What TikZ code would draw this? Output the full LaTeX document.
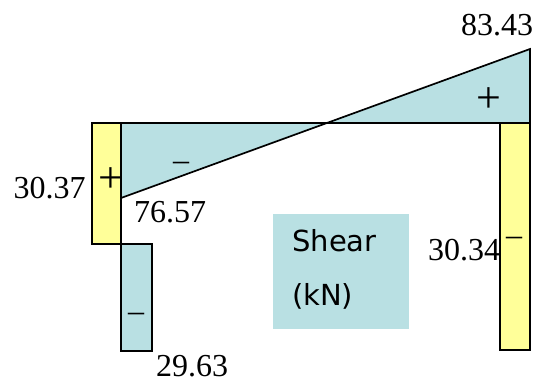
\documentclass[tikz,border=0pt]{standalone}
\usepackage{fontspec}
\setmainfont{Liberation Serif}
\newfontfamily\shearfont{DejaVu Sans}
\definecolor{ylw}{HTML}{FFFF99}
\definecolor{cyn}{HTML}{B9E0E3}
\begin{document}
\begin{tikzpicture}[x=1pt,y=-1pt,
  outl/.style={draw=black,line width=1.7pt,line join=miter},
  val/.style={anchor=base,inner sep=0pt,font=\fontsize{32}{32}\selectfont},
  plussign/.style={anchor=base,inner sep=0pt,font=\fontsize{44}{44}\selectfont},
  minussign/.style={anchor=base,inner sep=0pt,font=\fontsize{32}{32}\selectfont},
  sheartext/.style={anchor=base west,inner sep=0pt,font=\shearfont\fontsize{29}{29}\selectfont}]
\useasboundingbox (0,0) rectangle (541,383);
% beam (two triangles)
\filldraw[outl,fill=cyn] (121,123) -- (530,123) -- (530,49) -- (121,198) -- cycle;
% left column
\filldraw[outl,fill=ylw] (92,123) rectangle (121,244);
\filldraw[outl,fill=cyn] (121,244) rectangle (152,351);
% right column
\filldraw[outl,fill=ylw] (500,123) rectangle (530,350);
% legend box
\fill[cyn] (273,214) rectangle (409,329);
\node[sheartext] (shear) at (292,251) {Shear};
\node[sheartext] (unit) at (292,305) {(kN)};
% values
\node[val] (v1) at (497,35) {83.43};
\node[val] (v2) at (49.5,198) {30.37};
\node[val] (v3) at (170,222) {76.57};
\node[val] (v4) at (192,376) {29.63};
\node[val] (v5) at (464,260) {30.34};
% signs
\node[plussign] (p1) at (111,192) {+};
\node[plussign] (p2) at (489,112) {+};
\node[minussign] (m1) at (181,170) {–};
\node[minussign] (m2) at (136,321) {–};
\node[minussign] (m3) at (514,245) {–};
\end{tikzpicture}
\end{document}
